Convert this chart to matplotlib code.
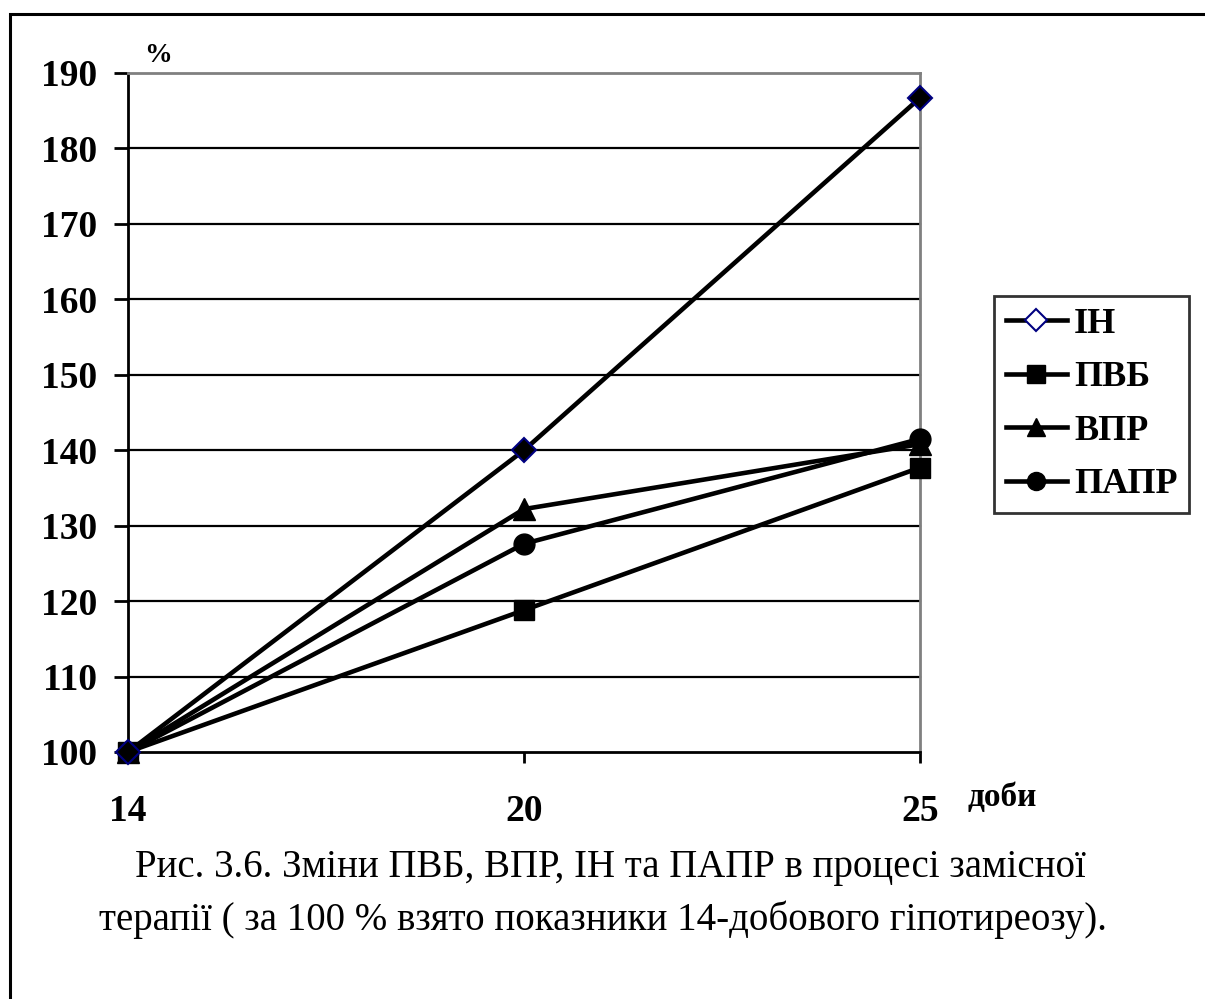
import matplotlib
matplotlib.use("Agg")
import matplotlib.pyplot as plt
from matplotlib.lines import Line2D
from matplotlib.patches import Rectangle

plt.rcParams['font.family'] = ['Liberation Serif', 'DejaVu Serif']

# days of therapy and values (% of the 14-day hypothyroidism level)
days = ['14', '20', '25']
ih = [100, 140, 186.7]
pvb = [100, 118.8, 137.7]
vpr = [100, 132.2, 140.8]
papr = [100, 127.6, 141.5]
names = ['ІН', 'ПВБ', 'ВПР', 'ПАПР']
yticks = [100, 110, 120, 130, 140, 150, 160, 170, 180, 190]

fig = plt.figure(figsize=(12.05, 9.99), dpi=100)
ax = fig.add_axes([128/1205, 1-752/999, (920-128)/1205, (752-73)/999])

x = range(len(days))
lw = 3.3
ax.plot(x, ih, color='black', lw=lw, marker='D', ms=12.5, mfc='black', mec='#000080', mew=1.5, zorder=5)
ax.plot(x, pvb, color='black', lw=lw, marker='s', ms=15, mfc='black', mec='black', zorder=4)
ax.plot(x, vpr, color='black', lw=lw, marker='^', ms=16, mfc='black', mec='black', zorder=4)
ax.plot(x, papr, color='black', lw=lw, marker='o', ms=15, mfc='black', mec='black', zorder=4)

ax.set_xlim(0, 2)
ax.set_ylim(100, 190)
ax.set_yticks(yticks)
ax.set_xticks(list(x))
ax.set_xticklabels(days)
for y in yticks[1:-1]:
    ax.axhline(y, color='black', lw=1.6, zorder=1)

for s in ['top', 'right']:
    ax.spines[s].set_color('#808080')
    ax.spines[s].set_linewidth(2)
for s in ['left', 'bottom']:
    ax.spines[s].set_color('black')
    ax.spines[s].set_linewidth(2)

ax.tick_params(axis='y', length=10, width=2, pad=12, labelsize=27)
ax.tick_params(axis='x', length=8, width=2, pad=22, labelsize=27)
for lab in ax.get_xticklabels() + ax.get_yticklabels():
    lab.set_fontweight('bold')
for ln in ax.lines:
    ln.set_clip_on(False)

fig.text(158/1205, 1-55/999, '%', fontsize=20, fontweight='bold', ha='center', va='center')
fig.text(1002/1205, 1-797/999, 'доби', fontsize=24, fontweight='bold', ha='center', va='center')

handles = [
    Line2D([], [], color='black', lw=lw, marker='D', ms=11, mfc='white', mec='#000080', mew=1.5),
    Line2D([], [], color='black', lw=lw, marker='s', ms=13, mfc='black', mec='black'),
    Line2D([], [], color='black', lw=lw, marker='^', ms=13, mfc='black', mec='black'),
    Line2D([], [], color='black', lw=lw, marker='o', ms=13, mfc='black', mec='black'),
]
leg = fig.legend(handles, names, loc='upper left', bbox_to_anchor=(994/1205, 1-296/999),
                 prop={'weight': 'bold', 'size': 26}, frameon=True, fancybox=False,
                 handlelength=1.7, handletextpad=0.2, labelspacing=0.56,
                 borderpad=0.32, borderaxespad=0)
leg.get_frame().set_edgecolor('black')
leg.get_frame().set_linewidth(2)

fig.text(610/1205, 1-867/999, 'Рис. 3.6. Зміни ПВБ, ВПР, ІН та ПАПР в процесі замісної',
         fontsize=28, ha='center', va='center')
fig.text(603/1205, 1-920/999, 'терапії ( за 100 % взято показники 14-добового гіпотиреозу).',
         fontsize=28, ha='center', va='center')

# outer frame around the figure
fig.add_artist(Rectangle((10/1205, -0.1), 1.2, 1.1 - 13.5/999, transform=fig.transFigure,
                         fill=False, edgecolor='black', lw=2.2))

fig.savefig('out.png', dpi=100)
